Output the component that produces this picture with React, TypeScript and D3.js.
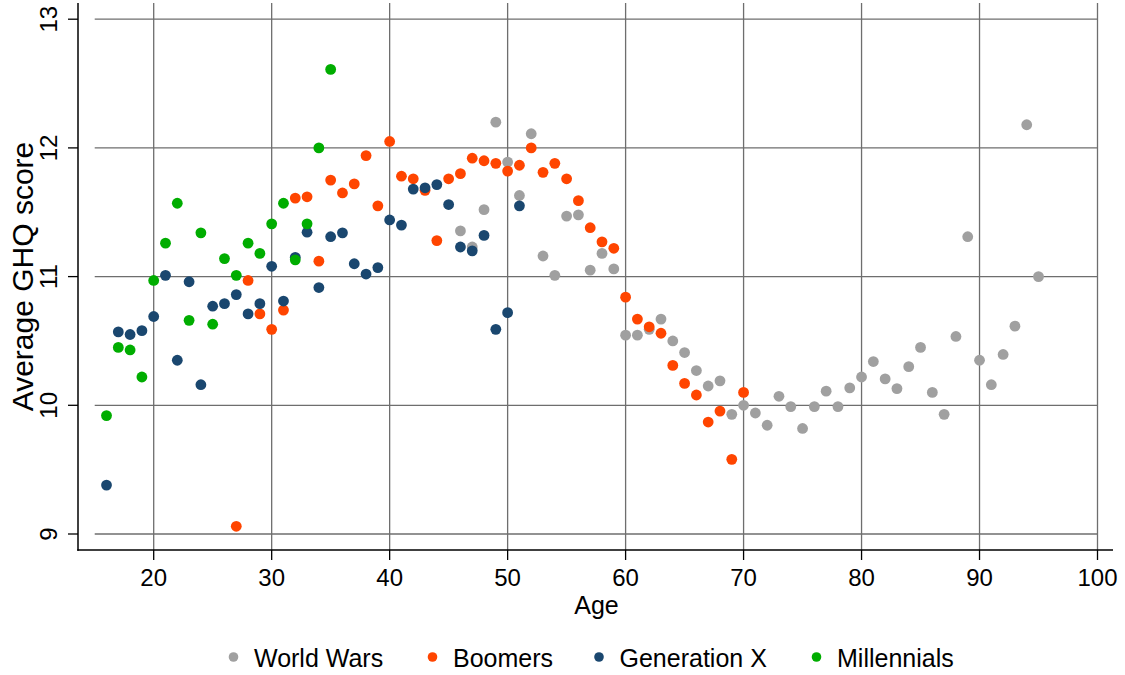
import React from "react";
import * as d3 from "d3";

const worldWarsAges = [46,47,48,49,50,51,52,53,54,55,56,57,58,59,60,61,62,63,64,65,66,67,68,69,70,71,72,73,74,75,76,77,78,79,80,81,82,83,84,85,86,87,88,89,90,91,92,93,94,95];
const worldWarsValues = [11.355,11.23,11.52,12.2,11.89,11.63,12.11,11.16,11.01,11.47,11.48,11.05,11.18,11.06,10.545,10.545,10.59,10.67,10.5,10.41,10.27,10.15,10.19,9.93,10.0,9.94,9.845,10.07,9.99,9.82,9.99,10.11,9.99,10.135,10.22,10.34,10.205,10.13,10.3,10.45,10.1,9.93,10.535,11.31,10.35,10.16,10.395,10.615,12.18,11.0];

const boomersAges = [27,28,29,30,31,32,33,34,35,36,37,38,39,40,41,42,43,44,45,46,47,48,49,50,51,52,53,54,55,56,57,58,59,60,61,62,63,64,65,66,67,68,69,70];
const boomersValues = [9.06,10.97,10.71,10.59,10.74,11.61,11.62,11.12,11.75,11.65,11.72,11.94,11.55,12.05,11.78,11.76,11.67,11.28,11.76,11.8,11.92,11.9,11.88,11.82,11.865,12.0,11.81,11.88,11.76,11.59,11.38,11.27,11.22,10.84,10.67,10.61,10.56,10.31,10.17,10.08,9.87,9.955,9.58,10.1];

const genXAges = [16,17,18,19,20,21,22,23,24,25,26,27,28,29,30,31,32,33,34,35,36,37,38,39,40,41,42,43,44,45,46,47,48,49,50,51];
const genXValues = [9.38,10.57,10.55,10.58,10.69,11.01,10.35,10.96,10.16,10.77,10.79,10.86,10.71,10.79,11.08,10.81,11.15,11.345,10.915,11.31,11.34,11.1,11.02,11.07,11.44,11.4,11.68,11.69,11.715,11.56,11.23,11.2,11.32,10.59,10.72,11.55];

const millennialsAges = [16,17,18,19,20,21,22,23,24,25,26,27,28,29,30,31,32,33,34,35];
const millennialsValues = [9.92,10.45,10.43,10.22,10.97,11.26,11.57,10.66,11.34,10.63,11.14,11.01,11.26,11.18,11.41,11.57,11.13,11.41,12.0,12.61];

const seriesNames = ["World Wars", "Boomers", "Generation X", "Millennials"];
const seriesColors = ["#a0a0a0", "#ff4500", "#1a476f", "#00ad00"];

const xTicks = [20, 30, 40, 50, 60, 70, 80, 90, 100];
const yTicks = [9, 10, 11, 12, 13];

const FONT = "'Liberation Sans', Arial, Helvetica, sans-serif";

export default function App() {
  const W = 1125, H = 675;
  const x = d3.scaleLinear().domain([20, 100]).range([153.7, 1097.5]);
  const y = d3.scaleLinear().domain([9, 13]).range([534, 19.2]);
  const axisLeft = 78, axisRight = 1113, plotTop = 3, axisBottom = 550;
  const gridX0 = x(15), gridX1 = x(100);

  const series = [
    { ages: worldWarsAges, values: worldWarsValues },
    { ages: boomersAges, values: boomersValues },
    { ages: genXAges, values: genXValues },
    { ages: millennialsAges, values: millennialsValues },
  ];

  const legendDotX = [233.5, 432.5, 599, 816.5];
  const gridColor = "#6e6e6e";

  return (
    <svg width={W} height={H} viewBox={`0 0 ${W} ${H}`}
      style={{ position: "absolute", left: 0, top: 0, display: "block", background: "#fff" }}
      fontFamily={FONT}>
      <rect x={0} y={0} width={W} height={H} fill="#fff" />
      {yTicks.map(t => (
        <line key={"hg" + t} x1={gridX0} x2={gridX1} y1={y(t)} y2={y(t)} stroke={gridColor} strokeWidth={1.3} />
      ))}
      {xTicks.map(t => (
        <line key={"vg" + t} x1={x(t)} x2={x(t)} y1={plotTop} y2={axisBottom} stroke={gridColor} strokeWidth={1.3} />
      ))}
      <line x1={axisLeft} x2={axisLeft} y1={plotTop} y2={axisBottom + 0.75} stroke="#000" strokeWidth={1.5} />
      <line x1={axisLeft - 0.75} x2={axisRight} y1={axisBottom} y2={axisBottom} stroke="#000" strokeWidth={1.5} />
      {yTicks.map(t => (
        <g key={"yt" + t}>
          <line x1={68} x2={axisLeft} y1={y(t)} y2={y(t)} stroke="#000" strokeWidth={1.3} />
          <text transform={`translate(57,${y(t)}) rotate(-90)`} textAnchor="middle" fontSize={24} fill="#000">{t}</text>
        </g>
      ))}
      {xTicks.map(t => (
        <g key={"xt" + t}>
          <line x1={x(t)} x2={x(t)} y1={axisBottom} y2={560} stroke="#000" strokeWidth={1.3} />
          <text x={x(t)} y={586} textAnchor="middle" fontSize={24} fill="#000">{t}</text>
        </g>
      ))}
      <text x={(axisLeft + axisRight) / 2 + 1} y={614} textAnchor="middle" fontSize={25} fill="#000">Age</text>
      <text transform={`translate(33,${(plotTop + axisBottom) / 2}) rotate(-90)`} textAnchor="middle" fontSize={30} fill="#000">Average GHQ score</text>
      {series.map((s, si) => (
        <g key={"s" + si}>
          {s.ages.map((a, i) => (
            <circle key={i} cx={x(a)} cy={y(s.values[i])} r={5.4} fill={seriesColors[si]} />
          ))}
        </g>
      ))}
      {seriesNames.map((n, i) => (
        <g key={"lg" + i}>
          <circle cx={legendDotX[i]} cy={657} r={4.8} fill={seriesColors[i]} />
          <text x={legendDotX[i] + 20.5} y={667} fontSize={25} fill="#000">{n}</text>
        </g>
      ))}
    </svg>
  );
}
